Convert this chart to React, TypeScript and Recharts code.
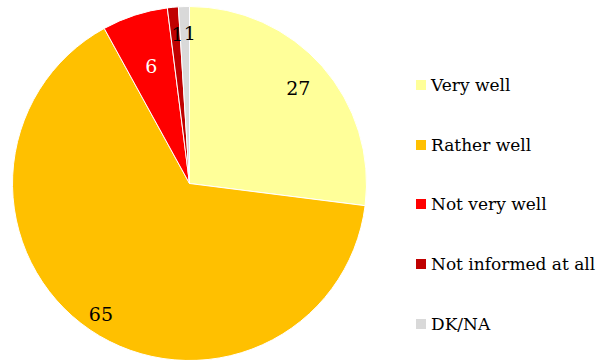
import { PieChart, Pie, Cell, Legend } from 'recharts';

const categories = ['Very well', 'Rather well', 'Not very well', 'Not informed at all', 'DK/NA'];
const values = [27, 65, 6, 1, 1];
const colors = ['#FFFF99', '#FFC000', '#FF0000', '#C00000', '#D9D9D9'];
const labelColors = ['#000', '#000', '#fff', '#000', '#000'];
// label placement tweaks (Excel had the small labels nudged by hand)
const labelRadius = [0.82, 0.89, 0.7, 0.85, 0.85];
const labelDx = [0, 0, 0, 8, -1];
const labelAnchor = ['middle', 'middle', 'middle', 'end', 'start'];

const data = categories.map((name, i) => ({ name, value: values[i] }));

const FONT = '"DejaVu Serif", Georgia, serif';
const RAD = Math.PI / 180;

const renderLabel = (props: any) => {
    const { cx, cy, midAngle, outerRadius, index, value } = props;
    const r = outerRadius * labelRadius[index];
    const x = cx + r * Math.cos(-midAngle * RAD) + labelDx[index];
    const y = cy + r * Math.sin(-midAngle * RAD);
    return (
        <text
            x={x}
            y={y}
            fill={labelColors[index]}
            textAnchor={labelAnchor[index]}
            dominantBaseline="central"
            fontFamily={FONT}
            fontSize={19}
        >
            {value}
        </text>
    );
};

const renderLegend = () => (
    <div style={{ fontFamily: FONT, fontSize: 17, color: '#000' }}>
        {categories.map((name, i) => (
            <div key={name} style={{ display: 'flex', alignItems: 'center', height: 59.7 }}>
                <span style={{ width: 10, height: 10, background: colors[i], marginRight: 5, display: 'inline-block' }} />
                <span style={{ whiteSpace: 'nowrap' }}>{name}</span>
            </div>
        ))}
    </div>
);

export default function App() {
    return (
        <div style={{ position: 'absolute', left: 0, top: 0, background: '#fff' }}>
            <PieChart width={598} height={360} margin={{ top: 0, right: 0, bottom: 0, left: 0 }}>
                <Pie
                    data={data}
                    dataKey="value"
                    nameKey="name"
                    cx={189.5}
                    cy={183.5}
                    outerRadius={177}
                    startAngle={90}
                    endAngle={-270}
                    stroke="#fff"
                    strokeWidth={1}
                    label={renderLabel}
                    labelLine={false}
                    isAnimationActive={false}
                >
                    {data.map((d, i) => (
                        <Cell key={d.name} fill={colors[i]} />
                    ))}
                </Pie>
                <Legend
                    layout="vertical"
                    content={renderLegend}
                    wrapperStyle={{ position: 'absolute', left: 416, top: 55, width: 182 }}
                />
            </PieChart>
        </div>
    );
}
